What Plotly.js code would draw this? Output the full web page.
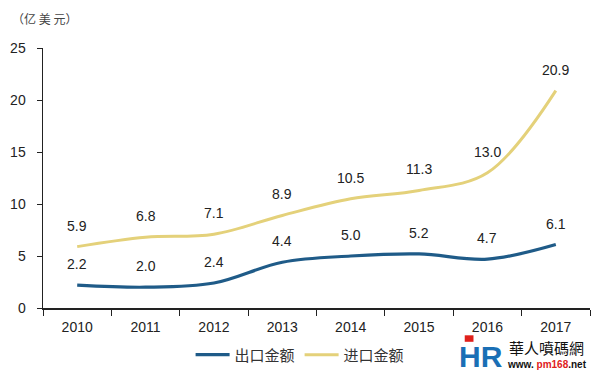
<!DOCTYPE html>
<html><head><meta charset="utf-8">
<script src="https://cdn.plot.ly/plotly-3.0.1.min.js"></script>
<style>body{margin:0;background:#fff}#c{width:600px;height:374px}</style>
</head><body><div id="c"></div>
<script>
const years = ['2010','2011','2012','2013','2014','2015','2016','2017'];
const exportVals = [2.2, 2.0, 2.4, 4.4, 5.0, 5.2, 4.7, 6.1];
const importVals = [5.9, 6.8, 7.1, 8.9, 10.5, 11.3, 13.0, 20.9];
const exportName = '出口金额';
const importName = '进口金额';
const blue = '#1f5b88';
const yellow = '#e4d17a';
const font = 'Liberation Sans, Arial, sans-serif';

const traces = [
  {x: years, y: exportVals, name: exportName, mode: 'lines', type: 'scatter',
   line: {color: blue, width: 3.2, shape: 'spline', smoothing: 1}},
  {x: years, y: importVals, name: importName, mode: 'lines', type: 'scatter',
   line: {color: yellow, width: 3, shape: 'spline', smoothing: 1}}
];

const ann = [];
function addLabels(vals){
  vals.forEach((v,i)=>ann.push({xref:'x', yref:'y', x: i, y: v, text: v.toFixed(1), showarrow: false,
    yshift: 21, font: {family: font, size: 14, color: '#222'}}));
}
addLabels(exportVals); addLabels(importVals);
ann.push({xref:'paper', yref:'paper', x:-0.06, y:1.115, xanchor:'left', yanchor:'middle',
  text:'（亿 美 元）', showarrow:false, font:{family:'Noto Sans CJK SC', size:12, color:'#444'}});
// watermark
ann.push({xref:'paper', yref:'paper', x:0.80, y:-0.185, xanchor:'center', yanchor:'middle',
  text:'<b>HR</b>', showarrow:false, font:{family:font, size:30, color:'#1a6fb5'}});
ann.push({xref:'paper', yref:'paper', x:0.921, y:-0.152, xanchor:'center', yanchor:'middle',
  text:'華人噴碼網', showarrow:false, font:{family:'Noto Sans CJK TC', size:15, color:'#111'}});
ann.push({xref:'paper', yref:'paper', x:0.921, y:-0.218, xanchor:'center', yanchor:'middle',
  text:'<b>www. <span style="color:#e0201b">pm168</span>.net</b>', showarrow:false, font:{family:font, size:10, color:'#111'}});

const layout = {
  width: 600, height: 374,
  margin: {l: 43, r: 10, t: 48, b: 66, autoexpand: false},
  paper_bgcolor: '#fff', plot_bgcolor: '#fff',
  showlegend: true,
  legend: {orientation: 'h', x: 0.47, xanchor: 'center', yref: 'container', y: 0.051, yanchor: 'middle',
    font: {family: 'Noto Sans CJK SC', size: 15, color: '#333'}, itemwidth: 34},
  xaxis: {type: 'category', range: [-0.5, 7.5], showline: true, linecolor: '#222', linewidth: 1.5,
    ticks: 'outside', ticklen: 6, tickcolor: '#222', tickson: 'boundaries', showgrid: false, zeroline: false,
    ticklabelstandoff: 6, automargin: false,
    tickfont: {family: font, size: 14, color: '#222'}},
  yaxis: {range: [0, 25], dtick: 5, showline: true, linecolor: '#222', linewidth: 1.5,
    ticks: 'outside', ticklen: 5, tickcolor: '#222', showgrid: false, zeroline: false,
    ticklabelstandoff: 8, automargin: false,
    tickfont: {family: font, size: 14, color: '#222'}},
  shapes: [{type:'rect', xref:'paper', yref:'paper', x0:0.771, x1:0.787, y0:-0.105, y1:-0.13,
    fillcolor:'#e0201b', line:{width:0}}],
  annotations: ann
};
Plotly.newPlot('c', traces, layout, {displayModeBar: false, staticPlot: true});
</script></body></html>
